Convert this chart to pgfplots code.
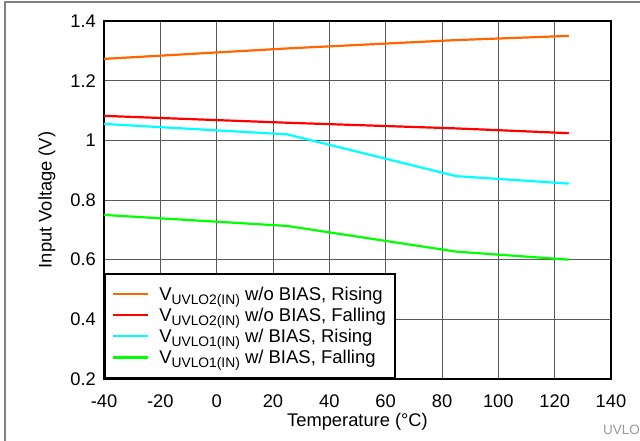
\documentclass[border=0pt]{standalone}
\usepackage{pgfplots}
\pgfplotsset{compat=1.18}
\usepackage{fontspec}
\setmainfont{Liberation Sans}
\definecolor{cOrange}{RGB}{255,102,0}
\definecolor{cRed}{RGB}{255,0,0}
\definecolor{cCyan}{RGB}{0,255,255}
\definecolor{cGreen}{RGB}{0,255,0}
\newcommand\sub[1]{\raisebox{-4.5pt}{\fontsize{13.8}{14}\selectfont #1}}
\begin{document}
\begin{tikzpicture}[x=1pt,y=1pt]
\begin{axis}[
  at={(0,0)}, anchor=south west,
  scale only axis, width=507pt, height=358pt,
  xmin=-40, xmax=140, ymin=0.2, ymax=1.4,
  xtick={-40,-20,...,140}, ytick={0.2,0.4,...,1.4},
  yticklabels={0.2,0.4,0.6,0.8,1,1.2,1.4},
  /pgf/number format/assume math mode=true,
  tick style={draw=none},
  grid=major,
  major grid style={black!65, line width=0.9pt},
  axis line style={black, line width=2.2pt},
  font=\fontsize{18.3}{21}\selectfont,
  tick label style={font=\fontsize{18.3}{21}\selectfont},
  xticklabel style={anchor=north, inner sep=0pt, yshift=-16pt},
  yticklabel style={anchor=east, inner sep=0pt, xshift=-8pt},
  xlabel={Temperature (°C)},
  ylabel={Input Voltage (V)},
  xlabel style={at={(axis description cs:0.5,-0.1313)}, anchor=base, inner sep=0pt},
  ylabel style={at={(axis description cs:-0.1124,0.5)}, anchor=center, inner sep=0pt},
  legend cell align=left,
  legend style={at={(rel axis cs:0,0)}, anchor=south west, draw=black, line width=2.2pt,
    font=\fontsize{18.5}{21}\selectfont, inner xsep=7pt, inner ysep=11pt,
    row sep=2.2pt, fill=white},
  legend image code/.code={\draw[#1, line width=2.2pt] (0pt,0pt) -- (35pt,0pt);
    \path (43pt,0pt);},
  every axis plot/.append style={line width=2.2pt},
]
\addplot[cOrange, no marks] coordinates {(-40,1.273) (25,1.308) (85,1.336) (125,1.350)};
\addlegendentry{V\sub{UVLO2(IN)} w/o BIAS, Rising}
\addplot[cRed, no marks] coordinates {(-40,1.082) (25,1.059) (85,1.040) (125,1.024)};
\addlegendentry{V\sub{UVLO2(IN)} w/o BIAS, Falling}
\addplot[cCyan, no marks] coordinates {(-40,1.055) (25,1.020) (85,0.880) (125,0.855)};
\addlegendentry{V\sub{UVLO1(IN)} w/ BIAS, Rising}
\addplot[cGreen, no marks] coordinates {(-40,0.750) (25,0.713) (85,0.627) (125,0.600)};
\addlegendentry{V\sub{UVLO1(IN)} w/ BIAS, Falling}
\end{axis}
\draw[black!50, line width=1.5pt] (-99,-80) -- (-99,377) -- (560,377);
\node[text=black!40, font=\fontsize{13.5}{15}\selectfont] at (517.5,-51) {UVLO};
\pgfresetboundingbox
\path (-104,-62) rectangle (536,379);
\end{tikzpicture}
\end{document}
